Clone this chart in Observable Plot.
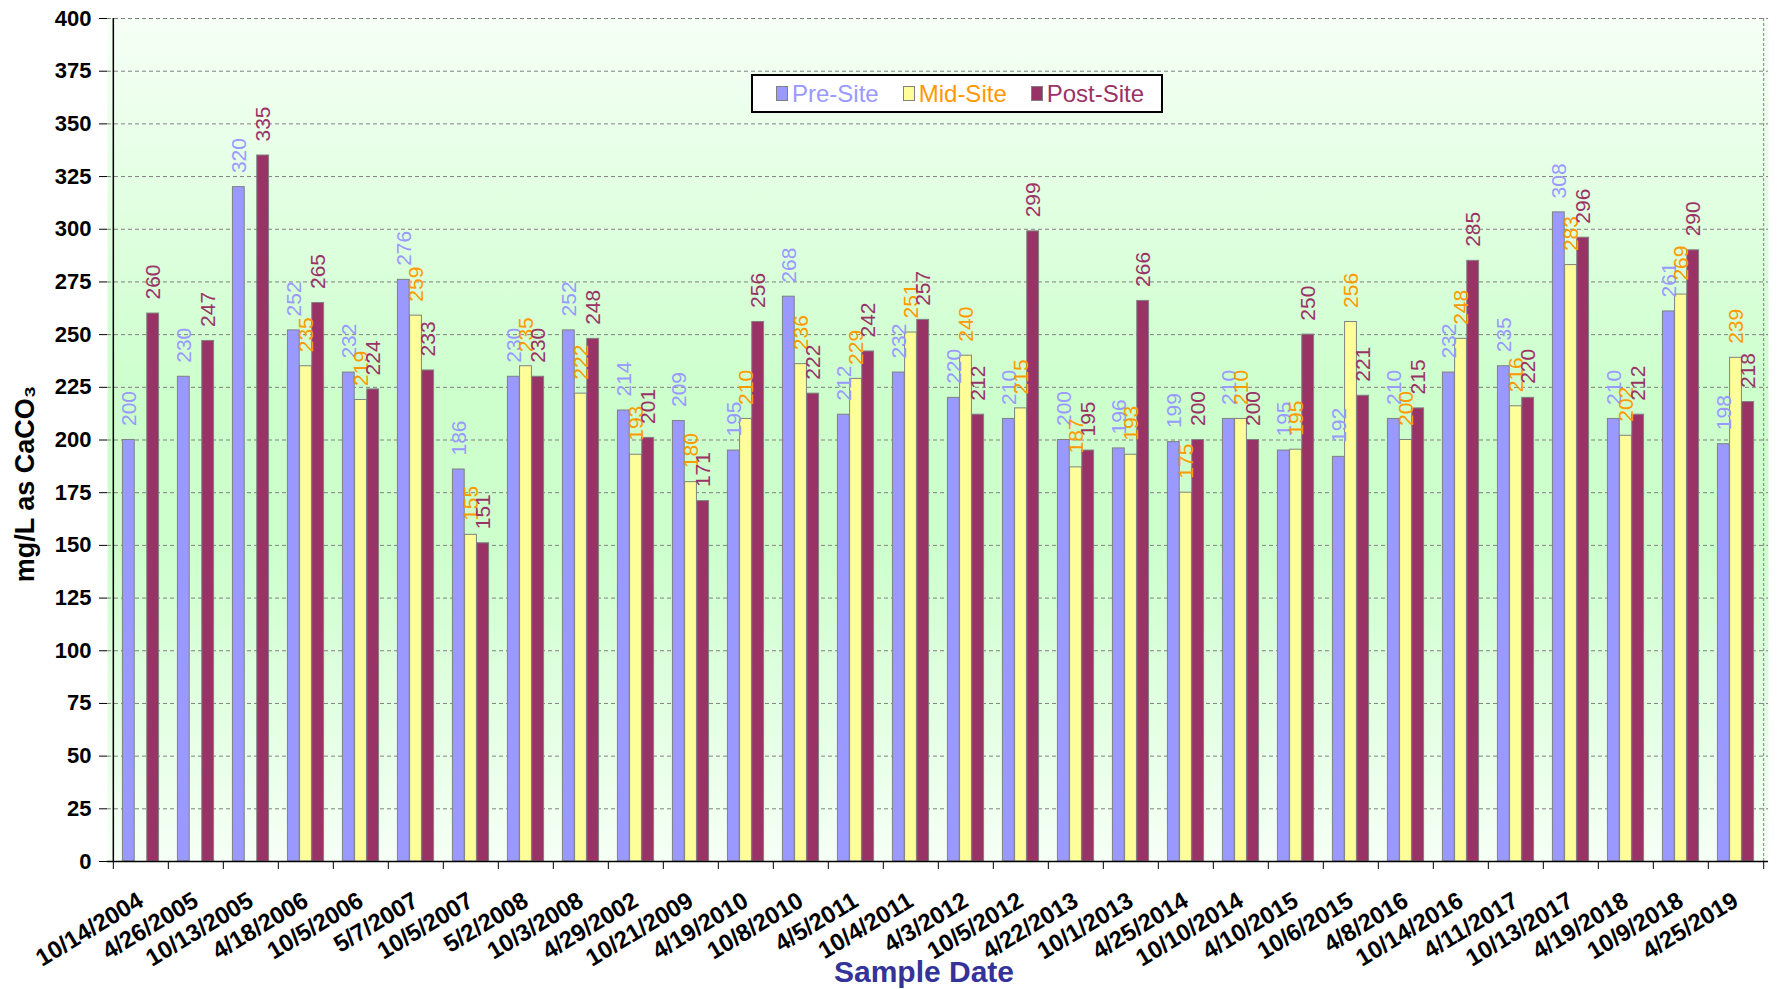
<!DOCTYPE html>
<html>
<head>
<meta charset="utf-8">
<script src="https://cdn.jsdelivr.net/npm/d3@7"></script>
<script src="https://cdn.jsdelivr.net/npm/@observablehq/plot@0.6"></script>
<style>
  html, body { margin: 0; padding: 0; background: #ffffff; }
  #wrap { position: relative; width: 1777px; height: 989px; font-family: "Liberation Sans", Arial, sans-serif; }
  #legend {
    position: absolute; left: 751px; top: 74px; width: 412px; height: 39px;
    box-sizing: border-box; border: 2px solid #000; background: #fff;
    display: flex; flex-wrap: nowrap; align-items: center; padding-left: 23px;
    font-family: "Liberation Sans", Arial, sans-serif; font-size: 24px; white-space: nowrap;
  }
  #legend .item { display: flex; align-items: center; margin-right: 24px; flex-shrink: 0; }
  #legend .item:last-child { margin-right: 0; }
  #legend .sw { width: 10px; height: 13px; border: 1.5px solid #808080; margin-right: 4px; flex-shrink: 0; }
</style>
</head>
<body>
<div id="wrap"></div>
<script>
// ---- data ----
const dates = ["10/14/2004","4/26/2005","10/13/2005","4/18/2006","10/5/2006","5/7/2007","10/5/2007","5/2/2008","10/3/2008","4/29/2002",
  "10/21/2009","4/19/2010","10/8/2010","4/5/2011","10/4/2011","4/3/2012","10/5/2012","4/22/2013","10/1/2013","4/25/2014",
  "10/10/2014","4/10/2015","10/6/2015","4/8/2016","10/14/2016","4/11/2017","10/13/2017","4/19/2018","10/9/2018","4/25/2019"];
const preSite  = [200,230,320,252,232,276,186,230,252,214, 209,195,268,212,232,220,210,200,196,199, 210,195,192,210,232,235,308,210,261,198];
const midSite  = [null,null,null,235,219,259,155,235,222,193, 180,210,236,229,251,240,215,187,193,175, 210,195.4,256,200,248,216,283,202,269,239];
const postSite = [260,247,335,265,224,233,151,230,248,201, 171,256,222,242,257,212,299,195,266,200, 200,250,221,215,285,220,296,212,290,218];
const seriesNames = ["Pre-Site","Mid-Site","Post-Site"];
const yTicks = d3.range(0, 401, 25);

// ---- styles ----
const fills  = ["#9999ff","#ffff99","#993366"];
const labelColors = ["#9999ff","#ff9900","#993366"];
const FONT = "Liberation Sans, Arial, sans-serif";

const W = 1777, H = 989, mL = 107, mR = 9, mT = 18, mB = 128;
const bw = (W - mL - mR) / dates.length;
const barW = bw * 0.22;

const seriesValues = [preSite, midSite, postSite];
const rowsFor = (s) => dates.map((d, i) => ({date: d, value: seriesValues[s][i]})).filter(r => r.value != null);

const marks = [
  Plot.frame({fill: "url(#bgGrad)", stroke: null}),
  Plot.gridY(yTicks.filter(t => t > 0), {stroke: "#808080", strokeOpacity: 1, strokeDasharray: "4,3"}),
  Plot.ruleX([dates[dates.length - 1]], {x: d => d, dx: bw / 2, stroke: "#808080", strokeDasharray: "3,2"})
];

seriesNames.forEach((name, s) => {
  const k = s - 1;
  marks.push(Plot.barY(rowsFor(s), {
    x: "date", y: "value", fill: fills[s], stroke: "#808080", strokeWidth: 1,
    insetLeft: bw / 2 + (k - 0.5) * barW,
    insetRight: bw / 2 - (k + 0.5) * barW
  }));
});
seriesNames.forEach((name, s) => {
  const k = s - 1;
  marks.push(Plot.text(rowsFor(s), {
    x: "date", y: "value", text: d => String(Math.round(d.value)),
    dx: k * barW, dy: -14, rotate: -90, textAnchor: "start", lineAnchor: "middle",
    fill: labelColors[s], fontSize: 21, fontFamily: FONT
  }));
});

marks.push(
  Plot.ruleY([0], {stroke: "#000", strokeWidth: 1.5}),
  Plot.ruleX([dates[0]], {x: d => d, dx: -bw / 2, stroke: "#000", strokeWidth: 1.5}),
  Plot.axisY(yTicks, {tickSize: 8, tickPadding: 8, fontSize: 22, fontWeight: "bold", fontFamily: FONT, label: null, color: "#000"}),
  Plot.axisX({tickSize: 8, tickFormat: () => "", dx: -bw / 2, label: null, color: "#000"}),
  Plot.axisX([dates[dates.length - 1]], {tickSize: 8, tickFormat: () => "", dx: bw / 2, label: null, color: "#000"}),
  Plot.text(dates, {x: d => d, frameAnchor: "bottom", dx: 0, dy: 37, rotate: -31, textAnchor: "end", lineAnchor: "middle",
    fontSize: 24, fontWeight: "bold", fontFamily: FONT, fill: "#000"}),
  Plot.text(["mg/L as CaCO\u2083"], {frameAnchor: "left", dx: -82, dy: 44, rotate: -90, textAnchor: "middle", lineAnchor: "middle",
    fontSize: 27, fontWeight: "bold", fontFamily: FONT, fill: "#000"}),
  Plot.text(["Sample Date"], {frameAnchor: "bottom", dx: -14, dy: 111, textAnchor: "middle", lineAnchor: "middle",
    fontSize: 30, fontWeight: "bold", fontFamily: FONT, fill: "#333399"})
);

const chart = Plot.plot({
  width: W, height: H,
  marginLeft: mL, marginRight: mR, marginTop: mT, marginBottom: mB,
  style: {fontFamily: FONT, background: "#ffffff", overflow: "visible"},
  x: {domain: dates, padding: 0},
  y: {domain: [0, 400]},
  marks
});

// background gradient definition
const ns = "http://www.w3.org/2000/svg";
const defs = document.createElementNS(ns, "defs");
defs.innerHTML = `<linearGradient id="bgGrad" x1="0" y1="0" x2="0" y2="1">
  <stop offset="0" stop-color="#f6fff6"/>
  <stop offset="0.45" stop-color="#ccffcc"/>
  <stop offset="0.62" stop-color="#ccffcc"/>
  <stop offset="1" stop-color="#f6fff6"/>
</linearGradient>`;
chart.insertBefore(defs, chart.firstChild);

const wrap = document.getElementById("wrap");
wrap.appendChild(chart);

// legend
const legend = document.createElement("div");
legend.id = "legend";
seriesNames.forEach((name, s) => {
  const item = document.createElement("div");
  item.className = "item";
  const sw = document.createElement("div");
  sw.className = "sw";
  sw.style.background = fills[s];
  const tx = document.createElement("span");
  tx.textContent = name;
  tx.style.color = labelColors[s];
  item.appendChild(sw); item.appendChild(tx);
  legend.appendChild(item);
});
wrap.appendChild(legend);
</script>
</body>
</html>
